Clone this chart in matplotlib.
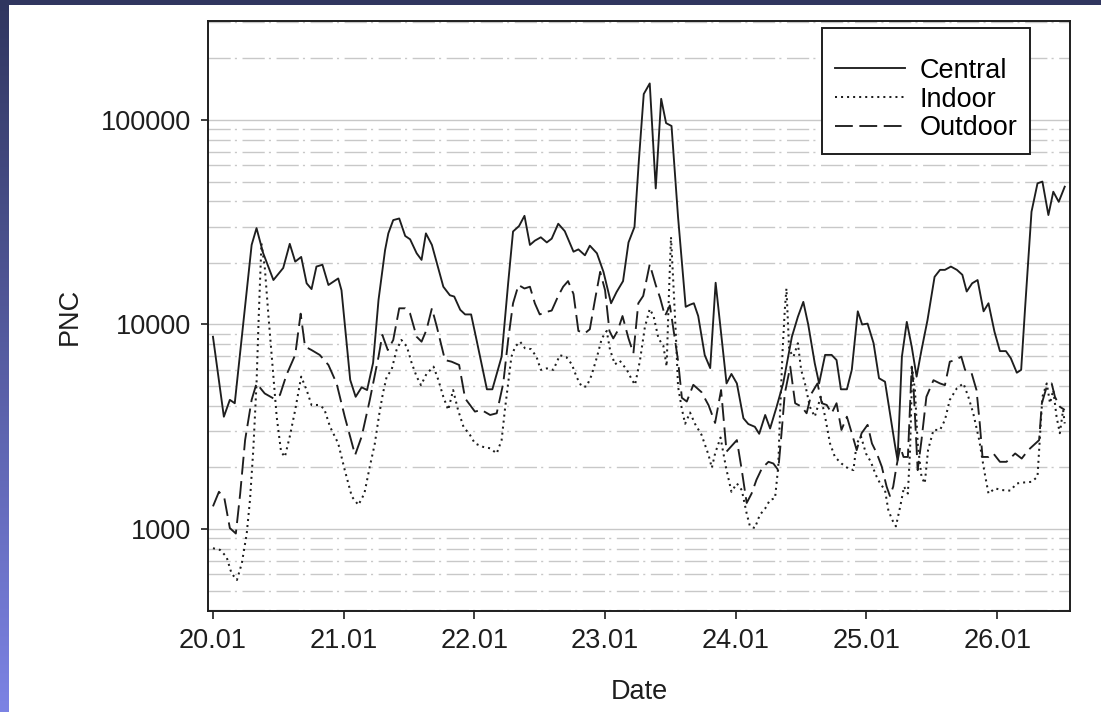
import numpy as np
import matplotlib.pyplot as plt
from matplotlib.colors import LinearSegmentedColormap
from matplotlib.patches import Rectangle
from matplotlib.ticker import LogLocator, NullFormatter

plt.rcParams['font.family'] = ['Liberation Sans', 'DejaVu Sans']

# hours after 20.01 00:00 and particle number concentration
central_hours = [0, 2.0, 3.1, 4.0, 5.3, 7.1, 8.0, 9.2, 11.1, 12.9, 14.1, 15.1, 16.2, 17.2, 18.1,
                 19.0, 20.1, 21.2, 23.0, 23.6, 25.2, 26.2, 27.3, 28.3, 29.4, 30.4, 31.6, 32.2, 33.1,
                 34.2, 35.3, 36.2, 37.4, 38.3, 39.1, 40.2, 42.3, 43.5, 44.3, 45.4, 46.3, 47.4, 48.4,
                 50.3, 51.3, 53.0, 54.2, 55.1, 56.2, 57.2, 58.2, 59.1, 60.2, 61.3, 62.2, 63.4, 64.6,
                 66.2, 67.1, 68.3, 69.2, 70.5, 71.7, 73.1, 74.1, 75.3, 76.3, 77.4, 78.2, 79.1, 80.2,
                 81.3, 82.3, 83.2, 84.2, 85.4, 86.8, 87.6, 88.3, 89.1, 90.3, 91.3, 92.3, 94.3, 95.2,
                 96.2, 97.4, 98.3, 99.5, 100.3, 101.4, 102.3, 103.5, 104.7, 106.3, 107.4, 108.4,
                 109.3, 110.5, 111.3, 112.4, 113.6, 114.5, 115.3, 116.4, 117.3, 118.4, 119.2, 120.2,
                 121.3, 122.3, 123.4, 124.3, 125.2, 125.7, 126.5, 127.4, 128.3, 129.2, 130.1, 131.2,
                 132.5, 133.5, 134.4, 135.5, 136.6, 137.6, 138.4, 139.4, 140.4, 141.5, 142.4, 143.5,
                 144.5, 145.6, 146.5, 147.6, 148.4, 149.1, 150.3, 151.4, 152.3, 153.4, 154.3, 155.3,
                 156.4]
central_pnc = [8710, 3540, 4280, 4120, 8700, 24500, 29600, 22400, 16500, 18900, 24800, 20300, 21400,
               15900, 14900, 19200, 19600, 15600, 16800, 14700, 5360, 4430, 4930, 4780, 6490, 13200,
               23100, 27900, 32400, 33000, 27100, 26100, 22300, 20700, 27900, 24500, 15300, 13900,
               13700, 11800, 11200, 11200, 8400, 4820, 4820, 6960, 15900, 28500, 30300, 34000, 24500,
               25700, 26700, 25200, 26300, 31100, 28600, 22700, 23300, 21800, 24300, 22300, 18100,
               12700, 14400, 16300, 25200, 30000, 63200, 134000, 151000, 46300, 127000, 96600, 93500,
               33500, 12200, 12500, 12700, 11000, 7080, 6120, 16000, 5150, 5730, 5150, 3480, 3260,
               3160, 2920, 3610, 3100, 3960, 5150, 8710, 10900, 12900, 10000, 6460, 5150, 7100, 7100,
               6700, 4820, 4820, 6000, 11600, 10000, 10100, 8100, 5460, 5250, 3700, 2600, 2170, 6960,
               10300, 7800, 5560, 7500, 10500, 17100, 18500, 18500, 19200, 18500, 17500, 14500, 15900,
               16500, 11600, 12700, 9220, 7410, 7410, 6840, 5810, 6000, 11800, 35600, 49000, 50000,
               34300, 44600, 39800, 47200]

indoor_hours = [0, 1.3, 2.5, 3.4, 4.4, 5.3, 6.2, 6.8, 7.4, 8.0, 8.4, 8.9, 9.5, 10.2, 10.8, 11.7, 12.5,
                13.2, 14.1, 15.1, 16.2, 17.2, 18.1, 19.3, 20.4, 21.5, 23.0, 24.2, 25.5, 26.7, 27.8,
                28.8, 29.7, 30.5, 31.2, 31.9, 32.8, 33.7, 34.6, 35.6, 36.5, 37.4, 38.2, 39.2, 40.5,
                41.4, 42.3, 43.2, 44.1, 45.0, 46.0, 47.2, 48.1, 49.6, 50.9, 52.1, 53.0, 53.6, 54.2,
                54.8, 55.5, 56.4, 57.3, 58.4, 59.4, 60.2, 61.3, 62.5, 63.7, 64.9, 65.9, 66.8, 67.7,
                68.6, 69.5, 70.5, 71.4, 72.3, 72.9, 73.8, 74.7, 76.0, 76.9, 77.5, 78.4, 79.3, 80.2,
                80.9, 81.8, 82.7, 83.3, 83.7, 84.1, 84.5, 85.0, 85.4, 86.1, 86.7, 87.6, 88.5, 89.7,
                91.0, 91.6, 92.2, 93.2, 94.2, 95.2, 96.2, 97.1, 98.0, 98.6, 99.5, 100.4, 101.4, 102.3,
                103.2, 103.8, 104.1, 104.6, 105.0, 105.3, 105.8, 106.6, 107.4, 108.0, 108.7, 109.6,
                110.5, 111.6, 112.4, 113.3, 114.2, 115.4, 116.6, 117.6, 118.2, 119.0, 119.9, 120.8,
                121.7, 122.5, 123.4, 124.0, 124.7, 125.4, 126.2, 126.9, 127.6, 128.0, 128.4, 128.9,
                129.4, 130.1, 130.7, 131.3, 132.3, 133.5, 134.4, 135.3, 136.6, 137.8, 138.7, 139.6,
                140.7, 141.6, 142.4, 143.6, 144.8, 146.4, 147.6, 149.1, 150.3, 151.4, 151.9, 152.3,
                153.1, 153.7, 154.3, 154.9, 155.5, 156.1, 156.4]
indoor_pnc = [805, 790, 730, 607, 563, 680, 950, 1390, 2430, 5150, 10900, 24900, 19200, 10900, 6960,
              3540, 2390, 2250, 2830, 3820, 5560, 4780, 4040, 4040, 3890, 3160, 2620, 1940, 1440, 1310,
              1490, 2020, 2600, 3600, 4600, 5560, 6000, 7500, 8400, 7800, 6460, 5560, 5050, 5730, 6220,
              5340, 4430, 3820, 4780, 3820, 3160, 2880, 2620, 2520, 2480, 2340, 2720, 3820, 5150, 6960,
              7800, 8240, 7650, 7580, 6960, 6000, 6100, 6000, 7080, 6920, 6380, 5510, 4970, 4970, 5630,
              6920, 8550, 9300, 7540, 6380, 6650, 6000, 5380, 5070, 6650, 9700, 11900, 11000, 8550,
              7860, 6240, 13500, 26800, 16600, 8900, 4970, 3860, 3270, 3710, 3270, 2890, 2300, 1990,
              2340, 2800, 2000, 1520, 1670, 1550, 1190, 1030, 1010, 1170, 1260, 1390, 1410, 2020, 3540,
              7500, 11800, 15000, 7500, 6960, 8100, 6000, 5150, 3960, 3540, 4430, 3540, 2620, 2250,
              2090, 1980, 1940, 2620, 2830, 2340, 2130, 1840, 1670, 1550, 1240, 1110, 1030, 1290, 1610,
              1490, 2430, 6000, 4780, 2620, 1800, 1670, 2430, 3050, 3050, 3410, 4280, 4880, 5150, 4430,
              3680, 2720, 1940, 1490, 1580, 1550, 1540, 1670, 1690, 1700, 1800, 2940, 4430, 5150, 4120,
              4780, 3540, 2940, 3820, 3280]

outdoor_hours = [0, 1.1, 2.1, 3.1, 4.2, 5.0, 5.9, 7.1, 8.0, 9.5, 11.1, 12.3, 13.5, 15.1, 16.1, 16.9,
                 18.1, 19.6, 21.2, 22.7, 24.2, 26.1, 27.3, 28.8, 30.4, 31.1, 32.1, 33.1, 34.2, 35.3,
                 36.2, 37.4, 38.3, 39.2, 40.2, 41.1, 42.6, 43.8, 45.2, 46.3, 48.1, 49.3, 50.9, 52.1,
                 53.3, 54.2, 55.1, 56.1, 57.2, 58.2, 59.1, 60.0, 61.1, 62.2, 63.4, 64.3, 65.2, 66.2,
                 67.1, 68.3, 69.2, 70.1, 71.1, 72.0, 72.8, 73.5, 74.3, 75.2, 76.3, 77.2, 78.1, 79.0,
                 80.2, 81.3, 82.1, 83.0, 83.9, 84.8, 85.4, 86.1, 87.0, 88.2, 89.7, 91.0, 92.2, 93.3,
                 94.3, 96.2, 97.1, 98.0, 98.9, 99.8, 100.8, 102.0, 102.9, 103.8, 104.4, 105.0, 106.0,
                 106.9, 108.1, 109.0, 109.9, 111.0, 111.8, 112.7, 113.6, 114.5, 115.4, 116.4, 117.3,
                 118.2, 119.1, 120.2, 121.0, 121.9, 122.8, 123.7, 124.3, 124.9, 125.5, 126.2, 126.8,
                 127.6, 128.3, 128.6, 129.4, 130.1, 131.0, 132.3, 133.5, 134.4, 135.3, 136.3, 137.4,
                 138.1, 139.3, 140.2, 140.8, 141.3, 142.4, 143.3, 144.5, 145.7, 147.3, 148.5, 149.7,
                 151.7, 152.2, 153.1, 154.0, 154.6, 155.5, 156.4]
outdoor_pnc = [1290, 1520, 1410, 1010, 950, 1490, 2720, 4280, 5150, 4600, 4350, 4520, 5670, 7100,
               11300, 7800, 7500, 7100, 6340, 5150, 3540, 2300, 2830, 4280, 6960, 8890, 7500, 8400,
               12000, 12000, 11300, 8710, 8240, 9400, 12000, 9760, 6700, 6580, 6340, 4350, 3750, 3820,
               3610, 3680, 5150, 8400, 12700, 15600, 15000, 15300, 12700, 11200, 11500, 11700, 13800,
               15300, 16300, 14100, 9300, 9060, 9480, 13000, 18100, 14700, 9300, 8550, 9300, 11000,
               8550, 7230, 12700, 13800, 19700, 15600, 13500, 11000, 12400, 8550, 6650, 4380, 4200,
               5070, 4670, 4030, 3300, 4780, 2390, 2720, 1940, 1340, 1490, 1740, 1980, 2130, 2090, 1940,
               2940, 4600, 6220, 4120, 3960, 3680, 4600, 5150, 4120, 4040, 3680, 4120, 3050, 3540, 2940,
               2430, 2940, 3230, 2620, 2340, 2020, 1610, 1450, 1610, 2020, 2520, 2250, 2250, 6220, 5150,
               1940, 2720, 4430, 5340, 5150, 5050, 6580, 6700, 6960, 6000, 5780, 4780, 3280, 2250, 2250,
               2340, 2130, 2130, 2340, 2210, 2430, 2720, 4120, 4970, 5150, 4430, 3960, 3820]

day_labels = ['20.01', '21.01', '22.01', '23.01', '24.01', '25.01', '26.01']
pnc_ticks = [1000, 10000, 100000]

W, H = 1101, 712
fig = plt.figure(figsize=(W / 100, H / 100), dpi=100)
fig.patch.set_facecolor('white')

# slide background: dark strip on top, blue gradient strip on the left
fig.add_artist(Rectangle((0, 1 - 5 / H), 1, 5 / H, transform=fig.transFigure,
                         color='#30365f', lw=0))
band = fig.add_axes([0, 0, 9 / W, 1])
band.imshow(np.linspace(0, 1, 256).reshape(-1, 1), aspect='auto',
            cmap=LinearSegmentedColormap.from_list('slide', ['#30365f', '#7c83e4']))
band.axis('off')

ax = fig.add_axes([208 / W, 1 - 611 / H, 862 / W, 590 / H])

ink = '#1e1e1e'
fs = 19.5
ax.plot(np.array(central_hours) / 24, central_pnc, color=ink, lw=1.35, ls='-', label='Central')
ax.plot(np.array(indoor_hours) / 24, indoor_pnc, color=ink, lw=1.45, ls=(0, (1, 2)), label='Indoor')
ax.plot(np.array(outdoor_hours) / 24, outdoor_pnc, color=ink, lw=1.35, ls=(0, (9.5, 3.5)),
        label='Outdoor')

ax.set_yscale('log')
ax.set_ylim(397, 305000)
ax.set_xlim(-0.038, 6.557)

ax.set_yticks(pnc_ticks, [str(t) for t in pnc_ticks])
ax.yaxis.set_minor_locator(LogLocator(base=10, subs=range(2, 10)))
ax.yaxis.set_minor_formatter(NullFormatter())
ax.set_xticks(range(len(day_labels)), day_labels)

ax.set_axisbelow(True)
ax.grid(which='major', axis='y', color='#c8c8c8', lw=1.0, ls='-')
ax.grid(which='minor', axis='y', color='#c8c8c8', lw=1.0, ls=(0, (16, 3, 1.5, 4)))

ax.tick_params(which='major', direction='out', length=5, width=1.2, colors=ink, labelsize=fs)
ax.tick_params(axis='y', which='major', pad=7)
ax.tick_params(axis='x', which='major', length=6, pad=6)
ax.tick_params(which='minor', length=0)
for s in ax.spines.values():
    s.set_linewidth(1.4)
    s.set_color(ink)

ax.set_xlabel('Date', fontsize=fs, color=ink, labelpad=18)
ax.set_ylabel('PNC', fontsize=fs, color=ink, labelpad=13)

leg = ax.legend(loc='upper right', bbox_to_anchor=(0.9536, 0.988), fontsize=fs,
                title=' ', title_fontsize=12, fancybox=False, framealpha=1,
                edgecolor=ink, handlelength=2.6, handletextpad=0.55, labelspacing=0.1,
                borderpad=0.45, borderaxespad=0)
leg.get_frame().set_linewidth(1.4)

fig.savefig('out.png', dpi=100)
